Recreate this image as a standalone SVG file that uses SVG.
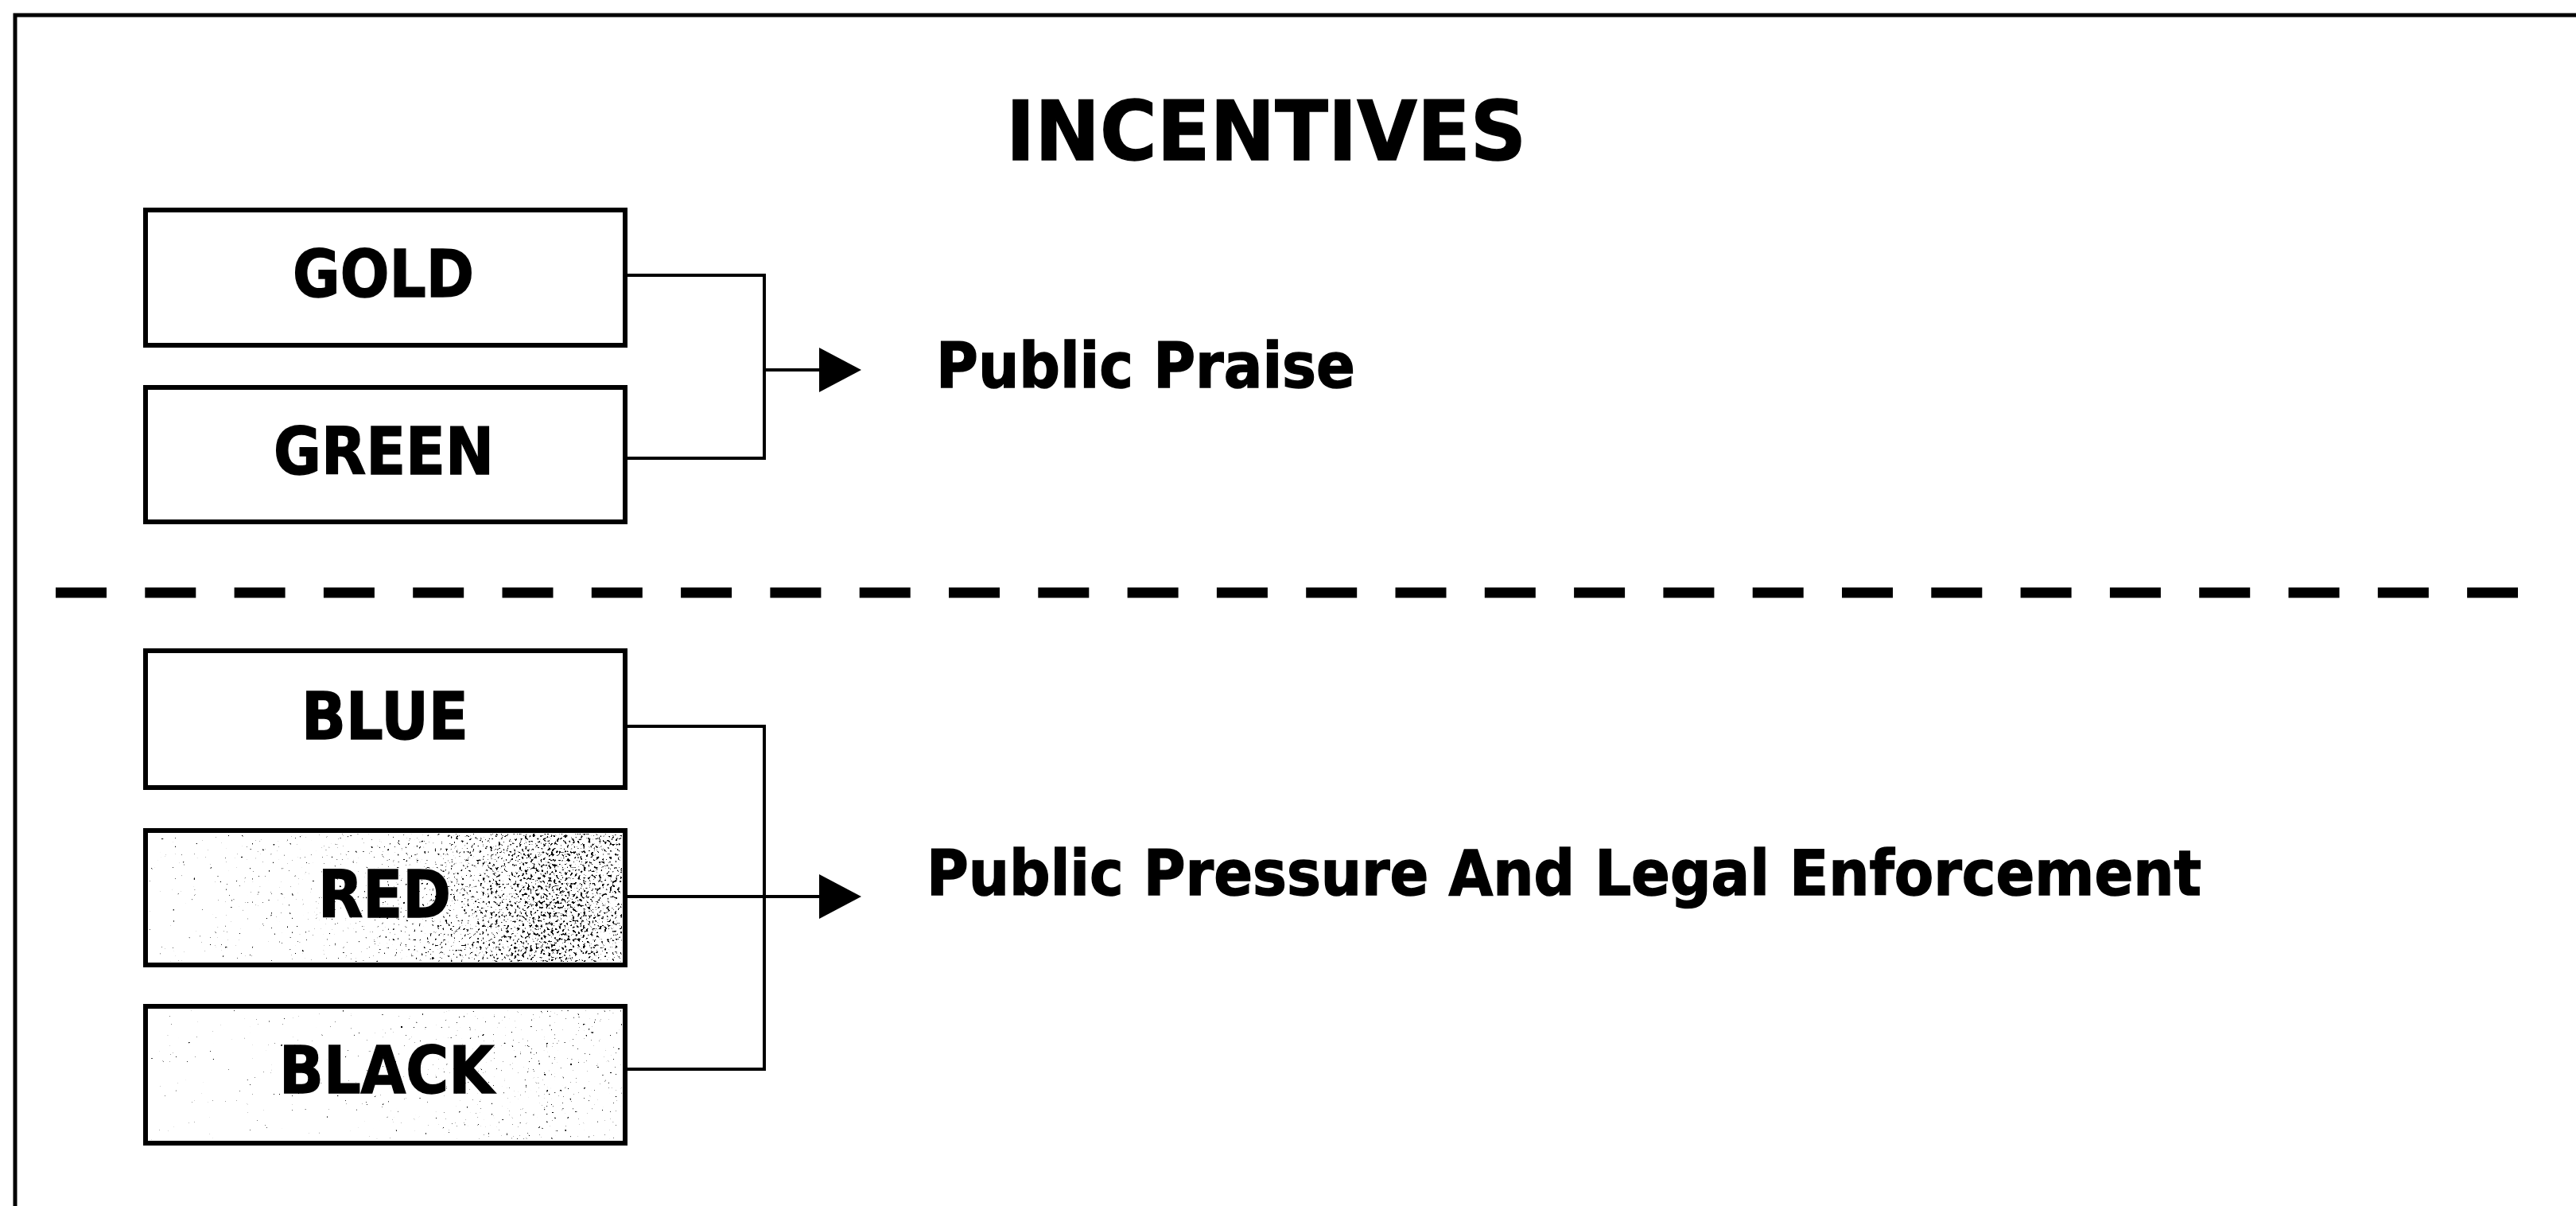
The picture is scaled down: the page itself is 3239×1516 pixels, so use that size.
<svg xmlns="http://www.w3.org/2000/svg" width="3239" height="1516" viewBox="0 0 3239 1516">
<style>
  .box { fill: #ffffff; stroke: #000000; stroke-width: 6; }
  .lbl { font-family: "DejaVu Sans", Verdana, sans-serif; font-weight: bold; font-size: 82px; fill: #000000; stroke: #000000; stroke-width: 1.5; }
  .out { font-family: "DejaVu Sans", Verdana, sans-serif; font-weight: bold; font-size: 78px; fill: #000000; stroke: #000000; stroke-width: 1.5; }
  .title { font-family: "DejaVu Sans", Verdana, sans-serif; font-weight: bold; font-size: 103px; fill: #000000; stroke: #000000; stroke-width: 1.5; }
  .conn { fill: none; stroke: #000000; stroke-width: 4; }
</style>
<defs>
  <marker id="arrow" markerUnits="userSpaceOnUse" markerWidth="54" markerHeight="58" refX="0" refY="28" orient="auto">
    <path d="M0,0 L53,28 L0,56 Z" fill="#000000"/>
  </marker>
  <linearGradient id="gRed" x1="0" y1="0" x2="1" y2="0">
    <stop offset="0" stop-color="#000" stop-opacity="0.12"/>
    <stop offset="0.45" stop-color="#000" stop-opacity="0.22"/>
    <stop offset="0.7" stop-color="#000" stop-opacity="0.42"/>
    <stop offset="0.85" stop-color="#000" stop-opacity="0.54"/>
    <stop offset="1" stop-color="#000" stop-opacity="0.45"/>
  </linearGradient>
  <linearGradient id="gBlack" x1="0" y1="0" x2="1" y2="0">
    <stop offset="0" stop-color="#000" stop-opacity="0.08"/>
    <stop offset="0.6" stop-color="#000" stop-opacity="0.16"/>
    <stop offset="0.85" stop-color="#000" stop-opacity="0.22"/>
    <stop offset="1" stop-color="#000" stop-opacity="0.18"/>
  </linearGradient>
  <filter id="speckle" x="0" y="0" width="100%" height="100%" color-interpolation-filters="sRGB">
    <feTurbulence type="fractalNoise" baseFrequency="0.3" numOctaves="2" seed="7" result="noise"/>
    <feColorMatrix in="noise" type="matrix" values="0 0 0 0 0  0 0 0 0 0  0 0 0 0 0  1 0 0 0 0" result="na"/>
    <feComposite in="na" in2="SourceAlpha" operator="arithmetic" k1="0" k2="12" k3="6" k4="-10"/>
  </filter>
</defs>

<g id="frame">
  <path d="M19,1516 V19 H3239" fill="none" stroke="#000" stroke-width="5"/>
  <line x1="70" y1="745" x2="3166" y2="745" stroke="#000" stroke-width="13" stroke-dasharray="64 48.3"/>
</g>

<g id="title">
  <text class="title" x="1265" y="201" textLength="654" lengthAdjust="spacingAndGlyphs">INCENTIVES</text>
</g>

<g id="node-gold">
  <rect class="box" x="183" y="264" width="603" height="170"/>
  <text class="lbl" x="368" y="373" textLength="228" lengthAdjust="spacingAndGlyphs">GOLD</text>
</g>
<g id="node-green">
  <rect class="box" x="183" y="487" width="603" height="169"/>
  <text class="lbl" x="344" y="596" textLength="277" lengthAdjust="spacingAndGlyphs">GREEN</text>
</g>
<g id="node-blue">
  <rect class="box" x="183" y="818" width="603" height="172"/>
  <text class="lbl" x="379" y="929" textLength="210" lengthAdjust="spacingAndGlyphs">BLUE</text>
</g>
<g id="node-red">
  <rect class="box" x="183" y="1044" width="603" height="169"/>
  <rect x="187" y="1048" width="595" height="161" fill="url(#gRed)" filter="url(#speckle)"/>
  <text class="lbl" x="400" y="1153" textLength="167" lengthAdjust="spacingAndGlyphs">RED</text>
</g>
<g id="node-black">
  <rect class="box" x="183" y="1265" width="603" height="172"/>
  <rect x="187" y="1269" width="595" height="164" fill="url(#gBlack)" filter="url(#speckle)"/>
  <text class="lbl" x="351" y="1374" textLength="270" lengthAdjust="spacingAndGlyphs">BLACK</text>
</g>

<g id="node-praise">
  <text class="out" x="1177" y="487" textLength="527" lengthAdjust="spacingAndGlyphs">Public Praise</text>
</g>
<g id="node-pressure">
  <text class="out" x="1165" y="1125" textLength="1603" lengthAdjust="spacingAndGlyphs">Public Pressure And Legal Enforcement</text>
</g>

<g id="connectors">
  <path class="conn" d="M786,346 H961 V576 H786"/>
  <path class="conn" d="M961,465 H1030" marker-end="url(#arrow)"/>
  <path class="conn" d="M786,913 H961 V1344 H786"/>
  <path class="conn" d="M786,1127 H1030" marker-end="url(#arrow)"/>
</g>
</svg>
